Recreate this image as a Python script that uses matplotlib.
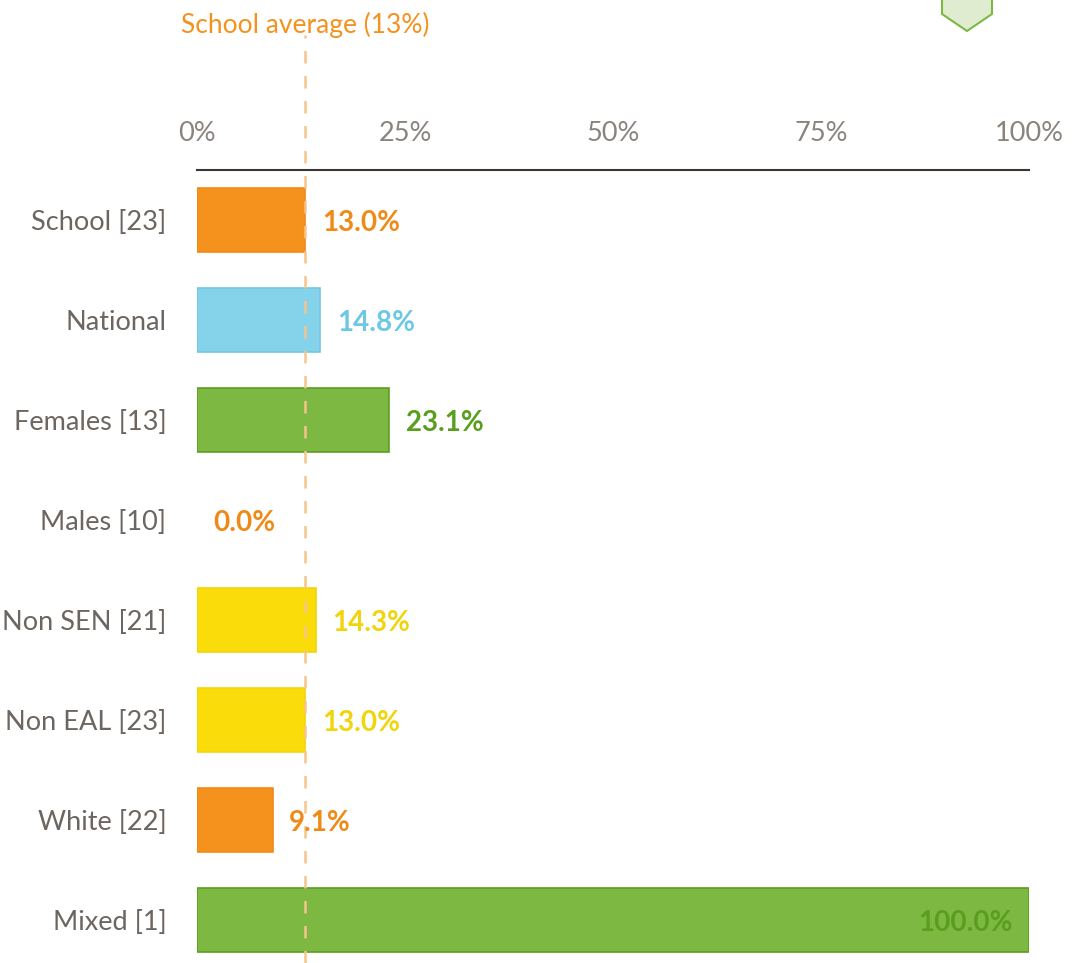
import matplotlib.pyplot as plt
from matplotlib.patches import Polygon

plt.rcParams['font.family'] = ['Lato', 'DejaVu Sans']

categories = ['School [23]', 'National', 'Females [13]', 'Males [10]',
              'Non SEN [21]', 'Non EAL [23]', 'White [22]', 'Mixed [1]']
values = [13.0, 14.8, 23.1, 0.0, 14.3, 13.0, 9.1, 100.0]
school_avg = 13
ticks = [0, 25, 50, 75, 100]
tick_labels = ['0%', '25%', '50%', '75%', '100%']

orange = '#f5921e'
blue = '#85d3eb'
green = '#7db843'
yellow = '#f9dc0a'
fills = [orange, blue, green, orange, yellow, yellow, orange, green]
edges = ['#f08a18', '#74c8e4', '#5e9e1e', '#f08a18', '#f2d40a', '#f2d40a', '#f08a18', '#5e9e1e']
text_cols = ['#ef8a17', '#6dc8e3', '#5a9e1e', '#ef8a17', '#f2d40a', '#f2d40a', '#ef8a17', '#5a9e1e']
gray = '#6d6560'

W, H = 1072, 963
fig = plt.figure(figsize=(W / 100, H / 100), dpi=100)
ax = fig.add_axes([197 / W, 0, (1029 - 197) / W, 1 - 170 / H])

ypos = list(range(len(categories)))
lws = [1.2 if v > 0 else 0 for v in values]
ax.barh(ypos, values, height=0.64, color=fills, edgecolor=edges, linewidth=lws, zorder=2)

for i, v in enumerate(values):
    if v >= 90:
        ax.text(v - 2, i + 0.03, f'{v:.1f}%', ha='right', va='center', color=text_cols[i],
                fontsize=20, fontweight='bold', zorder=4)
    else:
        ax.text(v + 2, i + 0.03, f'{v:.1f}%', ha='left', va='center', color=text_cols[i],
                fontsize=20, fontweight='bold', zorder=4)

ax.set_xlim(0, 100)
ax.set_ylim(7.43, -0.5)
ax.set_yticks(ypos)
ax.set_yticklabels(categories, fontsize=19.5, color=gray)
ax.xaxis.tick_top()
ax.set_xticks(ticks)
ax.set_xticklabels(tick_labels, fontsize=19.5, color='#8a837e')
ax.tick_params(axis='both', length=0)
ax.tick_params(axis='x', pad=17)
ax.tick_params(axis='y', pad=22)
for s in ['right', 'bottom', 'left']:
    ax.spines[s].set_visible(False)
ax.spines['top'].set_color('#3d3530')
ax.spines['top'].set_linewidth(1.5)

# school average dashed line, extends above the axis
ax.plot([school_avg, school_avg], [7.43, -1.85], ls=(0, (5, 5)), color='#f5c58c',
        lw=1.8, clip_on=False, zorder=3)
ax.text(school_avg, -1.95, f'School average ({school_avg}%)', ha='center', va='center',
        color='#f5921e', fontsize=19)

# green marker at top right
pts = [(942 / W, 1.0), (942 / W, 1 - 14 / H), (967 / W, 1 - 31 / H),
       (992 / W, 1 - 14 / H), (992 / W, 1.0)]
fig.patches.append(Polygon(pts, closed=False, transform=fig.transFigure,
                           facecolor='#e0ecd0', edgecolor='#7db843', lw=1.5))

plt.savefig('out.png', dpi=100)
